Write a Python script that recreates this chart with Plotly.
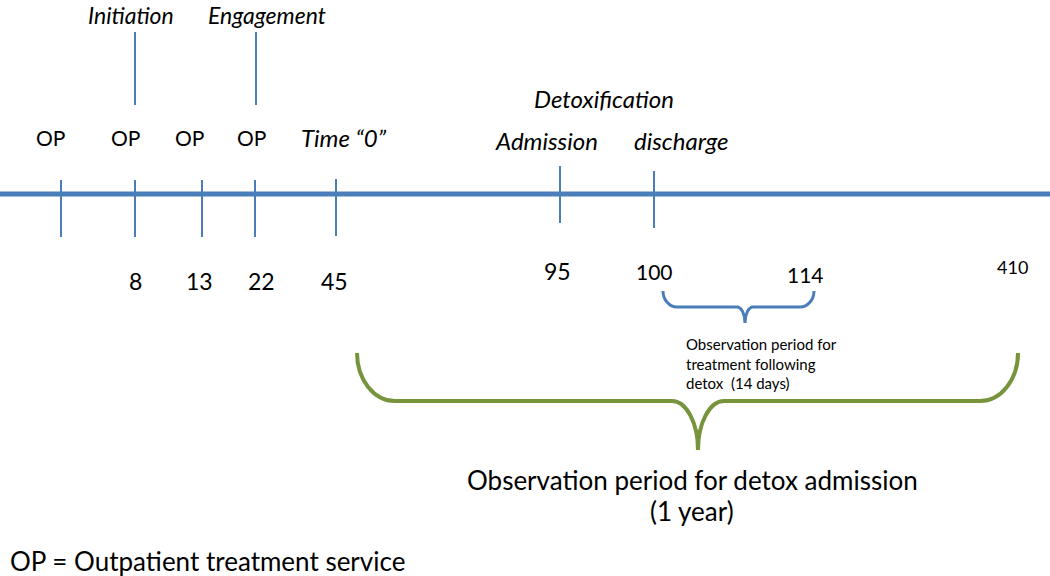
import plotly.graph_objects as go

# ---------------- data ----------------
event_top_labels = ["OP", "OP", "OP", "OP", "Time “0”", "Admission", "discharge"]
event_day_labels = ["", "8", "13", "22", "45", "95", "100"]
milestone_labels = ["Initiation", "Engagement"]
detox_header = "Detoxification"
followup_end_label = "114"
year_end_label = "410"
small_brace_text = "Observation period for<br>treatment following<br>detox  (14 days)"
big_brace_lines = ["Observation period for detox admission", "(1 year)"]
footnote = "OP = Outpatient treatment service"

# ---------------- layout (pixel space, y downward) ----------------
W, H = 1050, 576
BLUE = "#4A7EBB"
GREEN = "#77933C"
FONT = "Lato"

axis_y = 194
tick_x = [61, 135, 202, 255, 336, 560, 654]
tick_y0 = [180, 180, 180, 180, 179, 166, 171]
tick_y1 = [237, 237, 237, 237, 236, 223, 228]
top_x = [50, 125, 189, 251, 344, 546, 681]
top_y = [137, 137, 137, 137, 137, 140, 140]
top_italic = [False, False, False, False, True, True, True]
top_size = [21, 21, 21, 21, 24, 24, 24]
day_x = [None, 135, 199, 261, 334, 557, 654]
day_y = [None, 281, 281, 281, 281, 271, 271]
day_size = [None, 23, 23, 23, 23, 23, 21]

milestone_x = [135, 256]
milestone_label_x = [131, 267]
milestone_y0, milestone_y1 = 32, 105


def brace(x0, x1, xc, ytop, yh, ytip, rx_end, rx_tip):
    """Curly brace path opening upward, tip pointing down."""
    kx_e = 0.552 * rx_end
    ky_e = 0.552 * (yh - ytop)
    kx_t = 0.552 * rx_tip
    ky_t = 0.552 * (ytip - yh)
    p = f"M {x0},{ytop} "
    p += f"C {x0},{ytop + ky_e} {x0 + rx_end - kx_e},{yh} {x0 + rx_end},{yh} "
    p += f"L {xc - rx_tip},{yh} "
    p += f"C {xc - rx_tip + kx_t},{yh} {xc},{ytip - ky_t} {xc},{ytip} "
    p += f"C {xc},{ytip - ky_t} {xc + rx_tip - kx_t},{yh} {xc + rx_tip},{yh} "
    p += f"L {x1 - rx_end},{yh} "
    p += f"C {x1 - rx_end + kx_e},{yh} {x1},{ytop + ky_e} {x1},{ytop}"
    return p


fig = go.Figure()
fig.add_trace(go.Scatter(x=[0, W], y=[0, H], mode="markers",
                         marker=dict(opacity=0), hoverinfo="skip", showlegend=False))

shapes = []
# main timeline
shapes.append(dict(type="line", xref="x", yref="y", x0=0, x1=W, y0=axis_y, y1=axis_y,
                   line=dict(color=BLUE, width=5)))
# event ticks
for x, y0, y1 in zip(tick_x, tick_y0, tick_y1):
    shapes.append(dict(type="line", xref="x", yref="y", x0=x, x1=x, y0=y0, y1=y1,
                       line=dict(color=BLUE, width=2)))
# milestone ticks
for x in milestone_x:
    shapes.append(dict(type="line", xref="x", yref="y", x0=x, x1=x,
                       y0=milestone_y0, y1=milestone_y1,
                       line=dict(color=BLUE, width=2)))
# small blue brace
shapes.append(dict(type="path", xref="x", yref="y",
                   path=brace(663, 814, 745, 291, 307, 323, 14, 8),
                   line=dict(color=BLUE, width=3)))
# big green brace
shapes.append(dict(type="path", xref="x", yref="y",
                   path=brace(357, 1018, 698, 353, 401, 450, 38, 26),
                   line=dict(color=GREEN, width=4)))

ann = []


def txt(x, y, t, size, italic=False, xanchor="center"):
    ann.append(dict(x=x, y=y, xref="x", yref="y", text=t, showarrow=False,
                    xanchor=xanchor, yanchor="middle",
                    font=dict(family=FONT, size=size, color="black",
                              style="italic" if italic else "normal")))


for lab, x in zip(milestone_labels, milestone_label_x):
    txt(x, 15, lab, 23, italic=True)
for lab, x, y, it, s in zip(event_top_labels, top_x, top_y, top_italic, top_size):
    txt(x, y, lab, s, italic=it)
txt(604, 98, detox_header, 24, italic=True)
for lab, x, y, s in zip(event_day_labels, day_x, day_y, day_size):
    if lab:
        txt(x, y, lab, s)
txt(805, 274, followup_end_label, 21)
txt(1012, 267, year_end_label, 18)

ann.append(dict(x=684, y=363, xref="x", yref="y", text=small_brace_text, showarrow=False,
                xanchor="left", yanchor="middle", align="left",
                font=dict(family=FONT, size=15, color="black")))
for line, y in zip(big_brace_lines, [480, 511]):
    txt(692, y, line, 26)
txt(8, 561, footnote, 26, xanchor="left")

fig.update_layout(
    width=W, height=H,
    margin=dict(l=0, r=0, t=0, b=0),
    paper_bgcolor="white", plot_bgcolor="white",
    xaxis=dict(range=[0, W], visible=False, fixedrange=True),
    yaxis=dict(range=[H, 0], visible=False, fixedrange=True),
    shapes=shapes, annotations=ann, showlegend=False,
)
fig.write_html("out.html",
               config={"displayModeBar": False},
               post_script="document.body.style.margin='0';document.body.style.overflow='hidden';")
